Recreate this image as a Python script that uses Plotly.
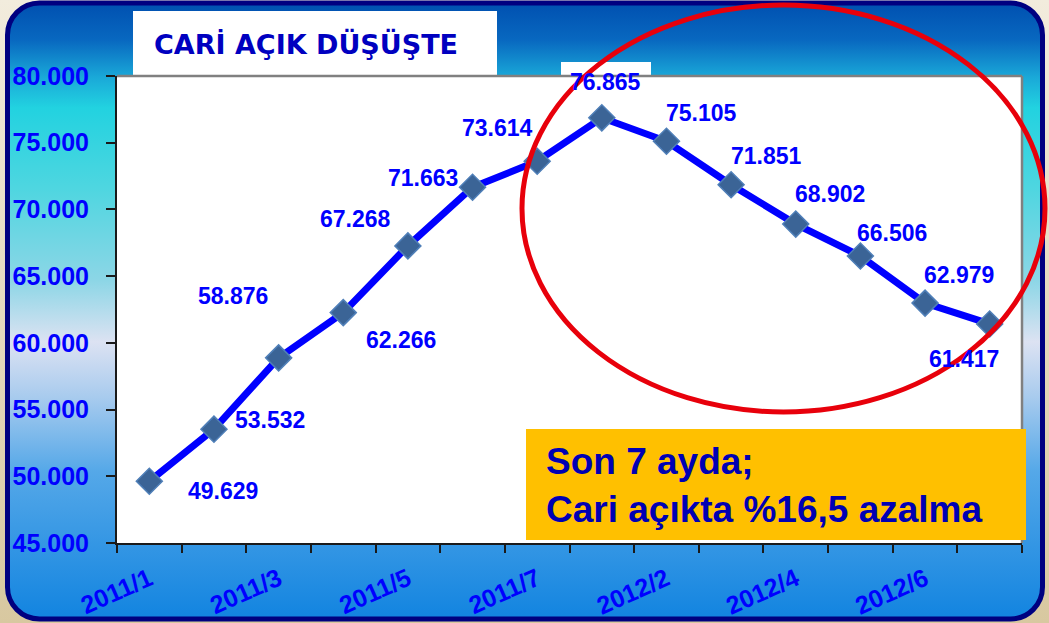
import base64
import plotly.graph_objects as go

# ---------------- data ----------------
months = ["2011/1", "2011/2", "2011/3", "2011/4", "2011/5", "2011/6", "2011/7",
          "2012/1", "2012/2", "2012/3", "2012/4", "2012/5", "2012/6", "2012/7"]
deficit = [49629, 53532, 58876, 62266, 67268, 71663, 73614,
           76865, 75105, 71851, 68902, 66506, 62979, 61417]
label_months = ["2011/1", "2011/3", "2011/5", "2011/7", "2012/2", "2012/4", "2012/6"]
y_ticks = [45000, 50000, 55000, 60000, 65000, 70000, 75000, 80000]
title_text = "CARİ AÇIK DÜŞÜŞTE"
note_lines = ["Son 7 ayda;", "Cari açıkta %16,5 azalma"]

# label offsets (pixels, styling only)
lab_dx = [74, 56, -46, 58, -52, -50, -40, 4, 35, 35, 34, 32, 34, -26]
lab_dy = [-10, 9, 62, -27, 27, 9, 33, 36, 28, 29, 30, 23, 28, -35]

# ---------------- geometry helpers ----------------
W, H = 1049, 623
L, R, T, B = 117, 1022, 76, 543


def X(px):
    return (px - L) / (R - L)


def Y(py):
    return (B - py) / (B - T)


def fmt(v):
    return f"{v:,}".replace(",", ".")


xpos = list(range(len(months)))

# ---------------- background (svg gradient) ----------------
svg = f"""<svg xmlns='http://www.w3.org/2000/svg' width='{W}' height='{H}' viewBox='0 0 {W} {H}'>
<defs>
<linearGradient id='o' x1='0' y1='0' x2='0' y2='1'>
<stop offset='0' stop-color='#F2ECDD'/><stop offset='1' stop-color='#D8C8A0'/>
</linearGradient>
<linearGradient id='g' x1='0' y1='0' x2='0' y2='1'>
<stop offset='0' stop-color='#0050B0'/>
<stop offset='0.06' stop-color='#0868C0'/>
<stop offset='0.12' stop-color='#1AA8D8'/>
<stop offset='0.17' stop-color='#22D2E0'/>
<stop offset='0.30' stop-color='#4ED6E0'/>
<stop offset='0.45' stop-color='#8CD6E6'/>
<stop offset='0.55' stop-color='#DCE2F2'/>
<stop offset='0.64' stop-color='#A8CBEE'/>
<stop offset='0.76' stop-color='#55A8E8'/>
<stop offset='1' stop-color='#1284E0'/>
</linearGradient>
</defs>
<rect x='0' y='0' width='{W}' height='{H}' fill='url(#o)'/>
<rect x='7.5' y='3' width='1035' height='616' rx='32' ry='32' fill='url(#g)' stroke='#000080' stroke-width='5'/>
</svg>"""
svg_uri = "data:image/svg+xml;base64," + base64.b64encode(svg.encode()).decode()

fig = go.Figure()

fig.add_trace(go.Scatter(
    x=xpos, y=deficit, mode="lines+markers",
    line=dict(color="#0000FF", width=7),
    marker=dict(symbol="diamond", size=20, color="#3B6496",
                line=dict(color="#4F7FB8", width=1.5)),
    showlegend=False, hoverinfo="skip"))

annotations = []
for i, v in enumerate(deficit):
    annotations.append(dict(
        x=xpos[i], y=v, xref="x", yref="y", text=fmt(v), showarrow=False,
        xshift=lab_dx[i], yshift=lab_dy[i],
        font=dict(family="Liberation Sans", size=23, color="#0000FF", weight="bold")))

annotations.append(dict(
    x=X(152), y=Y(44), xref="paper", yref="paper", xanchor="left", yanchor="middle",
    text=title_text, showarrow=False,
    font=dict(family="DejaVu Sans", size=27, color="#0000C0", weight="bold")))

annotations.append(dict(
    x=X(544), y=Y(485), xref="paper", yref="paper", xanchor="left", yanchor="middle",
    text="<br>".join(note_lines), showarrow=False, align="left",
    font=dict(family="Liberation Sans", size=37, color="#0000B4", weight="bold")))

shapes = [
    # plot area white
    dict(type="rect", xref="paper", yref="paper", x0=0, x1=1, y0=0, y1=1,
         fillcolor="white", line=dict(width=0), layer="below"),
    # title box
    dict(type="rect", xref="paper", yref="paper", x0=X(133), x1=X(497), y0=Y(76), y1=Y(11),
         fillcolor="white", line=dict(width=0), layer="below"),
    # label background for the peak
    dict(type="rect", xref="paper", yref="paper", x0=X(561), x1=X(651), y0=Y(76), y1=Y(62),
         fillcolor="white", line=dict(width=0), layer="below"),
    # gray frame top/right
    dict(type="line", xref="paper", yref="paper", x0=0, x1=1, y0=1, y1=1,
         line=dict(color="#808080", width=2.5), layer="above"),
    dict(type="line", xref="paper", yref="paper", x0=1, x1=1, y0=0, y1=1,
         line=dict(color="#808080", width=2.5), layer="above"),
    # orange note box
    dict(type="rect", xref="paper", yref="paper", x0=X(526), x1=X(1026), y0=Y(540), y1=Y(429),
         fillcolor="#FFC000", line=dict(width=0), layer="above"),
    # red ellipse
    dict(type="circle", xref="paper", yref="paper", x0=X(522), x1=X(1045), y0=Y(412), y1=Y(5),
         line=dict(color="#E8000B", width=5), layer="above"),
]

fig.update_layout(
    width=W, height=H, autosize=False,
    margin=dict(l=L, r=W - R, t=T, b=H - B, pad=0, autoexpand=False),
    paper_bgcolor="#EEE6D2", plot_bgcolor="white",
    separators=",.",
    images=[dict(source=svg_uri, xref="paper", yref="paper", x=X(0), y=Y(0),
                 sizex=W / (R - L), sizey=H / (B - T), xanchor="left", yanchor="top",
                 sizing="stretch", layer="below")],
    shapes=shapes, annotations=annotations,
    xaxis=dict(range=[-0.5, len(months) - 0.5], showgrid=False, zeroline=False,
               automargin=False,
               tickmode="array", tickvals=[months.index(m) for m in label_months],
               ticktext=label_months, ticks="", tickangle=-24,
               ticklabelstandoff=10,
               tickfont=dict(family="Liberation Sans", size=25, color="#0000FF", weight="bold"),
               showline=True, linecolor="#1a1a1a", linewidth=2,
               minor=dict(ticks="outside", tick0=-0.5, dtick=1, ticklen=8,
                          tickcolor="#1a1a1a", tickwidth=1.5, showgrid=False)),
    yaxis=dict(range=[45000, 80000], tickmode="array", tickvals=y_ticks,
               automargin=False,
               tickformat=",d", showgrid=False, zeroline=False,
               ticks="outside", ticklen=9, tickcolor="#1a1a1a", tickwidth=1.5,
               ticklabelstandoff=12,
               tickfont=dict(family="Liberation Sans", size=25, color="#0000FF", weight="bold"),
               showline=True, linecolor="#1a1a1a", linewidth=2),
)

fig.write_html("out.html",
               config={"displayModeBar": False},
               post_script="document.body.style.margin='0px';document.body.style.overflow='hidden';")
